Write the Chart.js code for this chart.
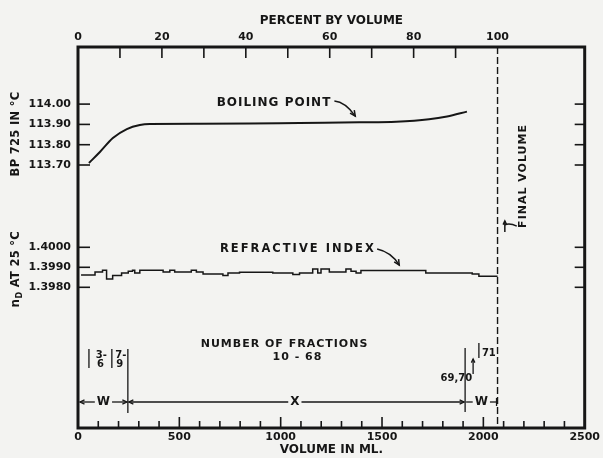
<!DOCTYPE html>
<html><head><meta charset="utf-8">
<script src="https://cdn.jsdelivr.net/npm/chart.js@4.4.0/dist/chart.umd.min.js"></script>
<style>html,body{margin:0;padding:0;background:#f3f3f1;}canvas{display:block}</style>
</head><body>
<canvas id="c" width="603" height="458"></canvas>
<script>
// ---- data ----
const bpVolumes = [54,108,172,241,305,354,600,846,1093,1388,1570,1732,1821,1919];
const bpValues  = [113.71,113.764,113.833,113.877,113.897,113.902,113.903,113.904,113.907,113.910,113.913,113.925,113.939,113.963];
const riVolumes = [15,84,121,141,171,215,248,269,280,305,420,453,477,559,584,617,715,740,797,961,1060,1093,1158,1183,1199,1240,1322,1347,1372,1396,1716,1945,1978,2070];
const riValues  = [1.39862,1.39877,1.39885,1.39842,1.39859,1.39872,1.39880,1.39885,1.39872,1.39885,1.39877,1.39885,1.39877,1.39885,1.39877,1.39867,1.39859,1.39872,1.39875,1.39872,1.39864,1.39872,1.39892,1.39872,1.39892,1.39877,1.39892,1.39880,1.39872,1.39884,1.39872,1.39867,1.39855,1.39855];
const volumeTicks = [0,500,1000,1500,2000,2500];
const volumeMinorTicks = [100,200,300,400,500,600,700,800,900,1000,1100,1200,1300,1400,1500,1600,1700,1800,1900,2000,2100,2200,2300,2400];
const percentTicks = [0,20,40,60,80,100];
const percentMinorTicks = [10,20,30,40,50,60,70,80,90];
const bpTicks = [113.70,113.80,113.90,114.00];
const riTicks = [1.3980,1.3990,1.4000];
const finalVolume = 2070;
const fractionCuts = [54,167];        // short separators
const groupCuts = [0,246,1910,2070];  // W | X | W
const groupLabels = ['W','X','W'];

// axis ranges
const BP_MIN = 112.4044, BP_MAX = 114.2813;
const RI_MIN = 1.390965, RI_MAX = 1.410015;
const VOL_MAX = 2500;

const ink = '#161616';
const FONT = '"DejaVu Sans"';
const riToBp = v => BP_MIN + (v - RI_MIN) / (RI_MAX - RI_MIN) * (BP_MAX - BP_MIN);

const deco = {
  id: 'deco',
  beforeDraw(chart) {
    const c = chart.ctx; c.save(); c.fillStyle = '#f3f3f1'; c.fillRect(0, 0, chart.width, chart.height); c.restore();
  },
  afterDraw(chart) {
    const c = chart.ctx, a = chart.chartArea;
    const sx = chart.scales.x, sx2 = chart.scales.x2, sy = chart.scales.y, sr = chart.scales.y2;
    const X = v => sx.getPixelForValue(v), YB = v => sy.getPixelForValue(v), YR = v => sr.getPixelForValue(v);
    c.save();
    c.strokeStyle = ink; c.fillStyle = ink; c.lineCap = 'butt';
    const line = (x1, y1, x2, y2) => { c.beginPath(); c.moveTo(x1, y1); c.lineTo(x2, y2); c.stroke(); };
    const head = (x, y, ang, s = 5) => {
      c.beginPath();
      c.moveTo(x - s * Math.cos(ang - 0.45), y - s * Math.sin(ang - 0.45));
      c.lineTo(x, y);
      c.lineTo(x - s * Math.cos(ang + 0.45), y - s * Math.sin(ang + 0.45));
      c.stroke();
    };
    const txt = (s, x, y, size, align = 'center', ls = 0) => {
      c.font = `bold ${size}px ${FONT}`; c.letterSpacing = ls + 'px';
      c.textAlign = align; c.textBaseline = 'middle'; c.fillText(s, x, y);
    };
    // frame
    c.lineWidth = 3;
    c.strokeRect(a.left, a.top, a.right - a.left, a.bottom - a.top);
    // y ticks (inward, both sides)
    c.lineWidth = 1.6;
    const yPix = bpTicks.map(YB).concat(riTicks.map(YR));
    yPix.forEach(p => { line(a.left, p, a.left + 12, p); line(a.right, p, a.right - 10, p); });
    // top ticks
    percentMinorTicks.forEach(p => { const px = sx2.getPixelForValue(p); line(px, a.top, px, a.top + 11); });
    // bottom ticks
    volumeMinorTicks.forEach(v => { const px = X(v); line(px, a.bottom, px, a.bottom - (v % 500 === 0 ? 11 : 7)); });
    // final volume dashed line
    c.lineWidth = 1.4; c.setLineDash([7, 3]);
    line(X(finalVolume), a.top, X(finalVolume), a.bottom);
    c.setLineDash([]);

    // curve labels
    c.lineWidth = 1.5;
    txt('BOILING POINT', X(967), YB(114.005), 12, 'center', 1);
    c.beginPath(); c.moveTo(X(1265), YB(114.015)); c.quadraticCurveTo(X(1319), YB(114.010), X(1368), YB(113.941)); c.stroke();
    head(X(1368), YB(113.941), Math.atan2(YB(113.941) - YB(114.010), X(1368) - X(1319)), 6);

    txt('REFRACTIVE INDEX', X(1085), YR(1.39991), 11.5, 'center', 2);
    c.beginPath(); c.moveTo(X(1476), YR(1.39991)); c.quadraticCurveTo(X(1545), YR(1.39976), X(1585), YR(1.39911)); c.stroke();
    head(X(1585), YR(1.39911), Math.atan2(YR(1.39911) - YR(1.39976), X(1585) - X(1545)), 6);

    // final volume label (rotated)
    c.save(); c.translate(X(2197), YB(113.646)); c.rotate(-Math.PI / 2);
    txt('FINAL VOLUME', 0, 0, 11, 'center', 1); c.restore();
    line(X(2106), YB(113.370), X(2106), YB(113.424));
    head(X(2106), YB(113.424), -Math.PI / 2, 4);
    c.beginPath(); c.moveTo(X(2106), YB(113.405)); c.quadraticCurveTo(X(2130), YB(113.415), X(2165), YB(113.399)); c.stroke();

    // y axis titles
    c.save(); c.translate(16, YB(113.853)); c.rotate(-Math.PI / 2);
    txt('BP 725 IN °C', 0, 0, 11.5, 'center', 0.3); c.restore();
    c.save(); c.translate(16, YR(1.39897)); c.rotate(-Math.PI / 2);
    c.font = `bold 12px ${FONT}`; c.letterSpacing = '0.3px';
    const s1 = 'n', s3 = ' AT 25 °C';
    const w1 = c.measureText(s1).width, w3 = c.measureText(s3).width;
    c.font = `bold 8px ${FONT}`; const w2 = c.measureText('D').width;
    const tot = w1 + w2 + w3; let ox = -tot / 2;
    c.textBaseline = 'middle'; c.textAlign = 'left';
    c.font = `bold 12px ${FONT}`; c.fillText(s1, ox, 0); ox += w1;
    c.font = `bold 8px ${FONT}`; c.fillText('D', ox, 4); ox += w2;
    c.font = `bold 11.5px ${FONT}`; c.fillText(s3, ox, 0);
    c.restore();

    // fraction annotations
    const b = a.bottom;
    c.lineWidth = 1.3;
    fractionCuts.forEach(v => line(X(v), b - 79, X(v), b - 60));
    line(X(groupCuts[1]), b - 79, X(groupCuts[1]), b - 15);
    line(X(groupCuts[2]), b - 80, X(groupCuts[2]), b - 16);
    line(X(1978), b - 85, X(1978), b - 70);
    const mid1 = (X(fractionCuts[0]) + X(fractionCuts[1])) / 2;
    const mid2 = (X(fractionCuts[1]) + X(groupCuts[1])) / 2;
    txt('3-', mid1 + 1, b - 73, 10); txt('6', mid1, b - 64, 10);
    txt('7-', mid2 + 1, b - 73, 10); txt('9', mid2, b - 64, 10);
    txt('71', X(1978) + 3, b - 75, 10, 'left');
    txt('69,70', X(groupCuts[2]) + 7, b - 50, 10, 'right');
    line(X(groupCuts[2]) + 8, b - 54, X(groupCuts[2]) + 8, b - 69);
    head(X(groupCuts[2]) + 8, b - 69, -Math.PI / 2, 4);
    txt('NUMBER OF FRACTIONS', X(1019), b - 84, 11, 'center', 1);
    txt('10 - 68', X(1083), b - 71, 11, 'center', 1);

    // W / X / W ranges
    const ry = b - 26;
    c.font = `bold 12px ${FONT}`; c.letterSpacing = '0px';
    for (let i = 0; i < groupLabels.length; i++) {
      const x1 = X(groupCuts[i]) + (i === 0 ? 2 : 1), x2 = X(groupCuts[i + 1]) - 1;
      const cx = (i === 1) ? X(1070) : (x1 + x2) / 2;
      const hw = c.measureText(groupLabels[i]).width / 2 + 2;
      line(x1, ry, cx - hw, ry); line(cx + hw, ry, x2, ry);
      txt(groupLabels[i], cx, ry, 12);
      if (i < 2) { head(x1, ry, Math.PI, 5); head(x2, ry, 0, 5); }
    }
    line(X(groupCuts[3]) - 1, ry - 4, X(groupCuts[3]) - 1, ry + 4);
    c.restore();
  }
};

const bold = (size) => ({ family: FONT, size: size, weight: 'bold' });

new Chart(document.getElementById('c'), {
  type: 'line',
  data: {
    datasets: [
      { label: 'Boiling point', data: bpVolumes.map((v, i) => ({ x: v, y: bpValues[i] })), yAxisID: 'y', xAxisID: 'x',
        borderColor: ink, borderWidth: 2, pointRadius: 0, cubicInterpolationMode: 'monotone', fill: false },
      { label: 'Refractive index', data: riVolumes.map((v, i) => ({ x: v, y: riValues[i] })), yAxisID: 'y2', xAxisID: 'x',
        borderColor: ink, borderWidth: 1.5, pointRadius: 0, stepped: 'before', fill: false }
    ]
  },
  options: {
    responsive: false, animation: false, devicePixelRatio: 1,
    layout: { padding: { left: 0, right: 17, top: 0, bottom: 0 } },
    plugins: { legend: { display: false }, tooltip: { enabled: false } },
    scales: {
      x: {
        type: 'linear', position: 'bottom', min: 0, max: VOL_MAX,
        afterBuildTicks: s => { s.ticks = volumeTicks.map(v => ({ value: v })); },
        afterFit: s => { s.height = 30; },
        grid: { display: false, drawTicks: false }, border: { display: false },
        ticks: { color: ink, font: bold(11), padding: 3, maxRotation: 0, autoSkip: false, callback: v => String(v) },
        title: { display: true, text: 'VOLUME IN ML.', color: ink, font: bold(12), padding: { top: 0, bottom: 1 } }
      },
      x2: {
        type: 'linear', position: 'top', min: 0, max: VOL_MAX / finalVolume * 100,
        afterBuildTicks: s => { s.ticks = percentTicks.map(v => ({ value: v })); },
        afterFit: s => { s.height = 47; },
        grid: { display: false, drawTicks: false }, border: { display: false },
        ticks: { color: ink, font: bold(11), padding: 3, maxRotation: 0, autoSkip: false, callback: v => String(v) },
        title: { display: true, text: 'PERCENT BY VOLUME', color: ink, font: bold(12), padding: { top: 14, bottom: 0 } }
      },
      y: {
        type: 'linear', position: 'left', min: BP_MIN, max: BP_MAX,
        afterBuildTicks: s => {
          s.ticks = bpTicks.map(v => ({ value: v, lbl: v.toFixed(2) }))
            .concat(riTicks.map(v => ({ value: riToBp(v), lbl: v.toFixed(4) })));
        },
        afterFit: s => { s.width = 78; },
        grid: { display: false, drawTicks: false }, border: { display: false },
        ticks: { color: ink, font: bold(11), padding: 7, autoSkip: false, callback: (v, i, t) => t[i].lbl }
      },
      y2: { type: 'linear', display: false, min: RI_MIN, max: RI_MAX }
    }
  },
  plugins: [deco]
});
</script>
</body></html>
